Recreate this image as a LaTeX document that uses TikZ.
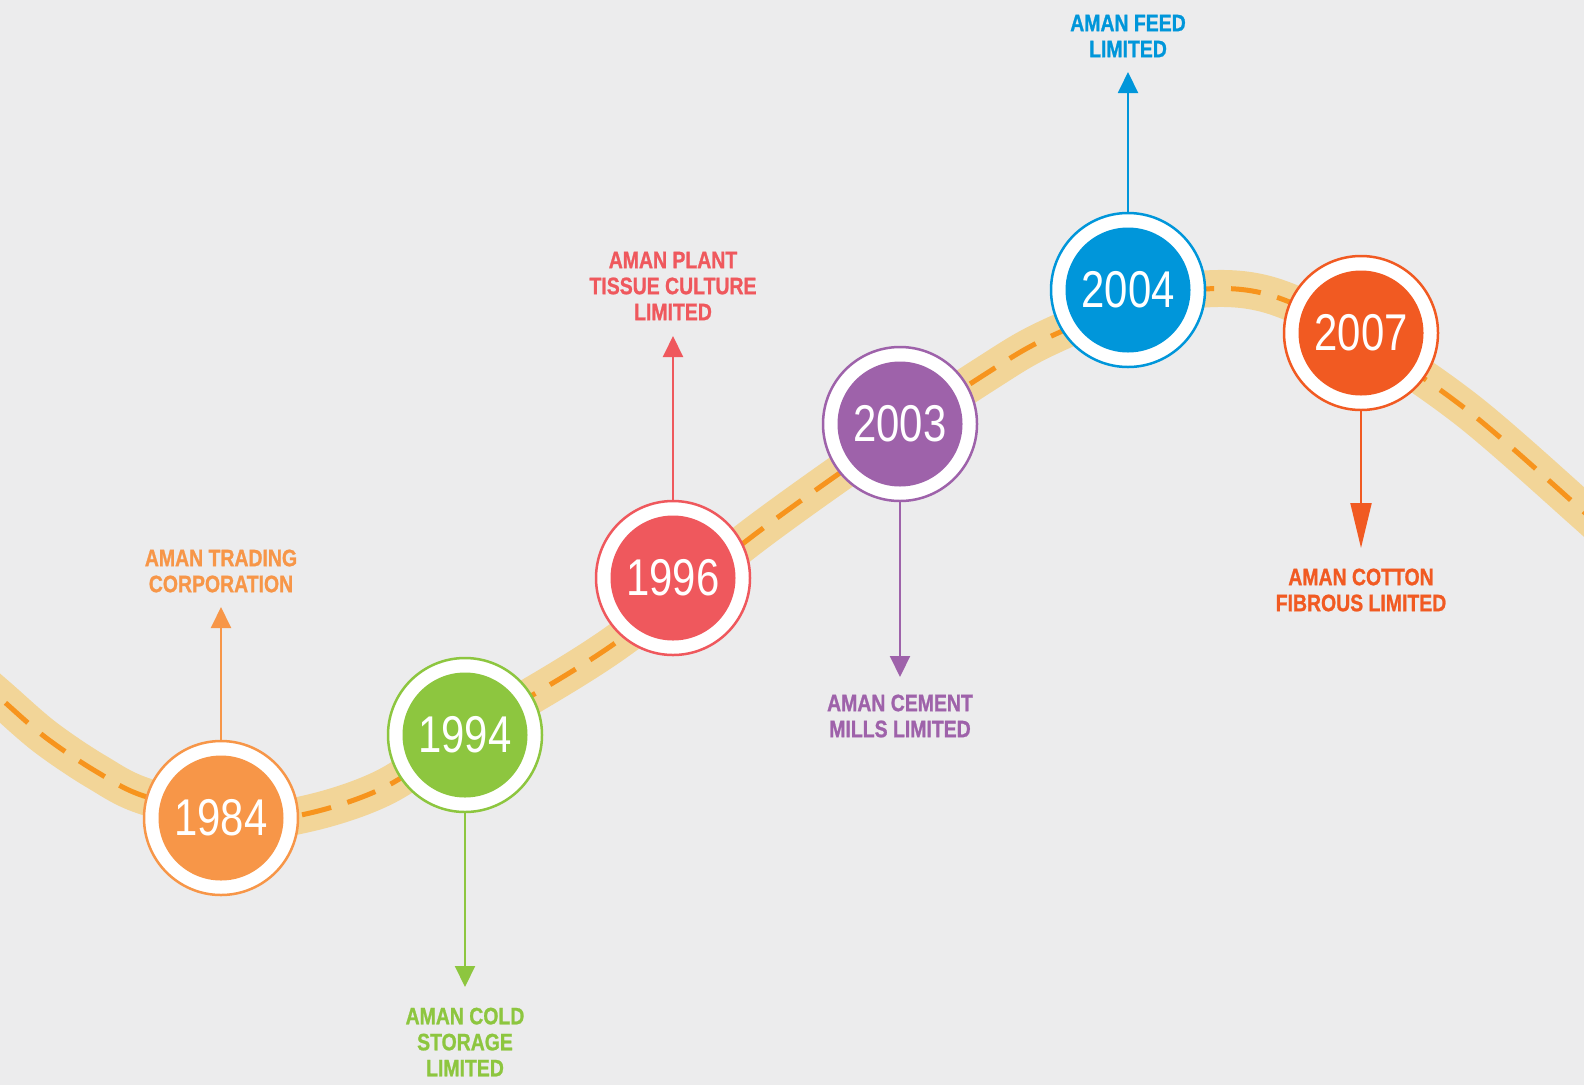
\documentclass[tikz,border=0pt]{standalone}
\usepackage{fontspec}
\setmainfont{Liberation Sans}
\newfontfamily\yearfont[FakeStretch=0.81]{Liberation Sans}
\newfontfamily\labelfont[FakeStretch=0.82,FakeBold=1]{Liberation Sans}
\usetikzlibrary{arrows.meta}
\definecolor{bgc}{RGB}{236,236,237}
\definecolor{roadc}{RGB}{242,213,152}
\definecolor{dashc}{RGB}{247,148,29}
\definecolor{cA}{RGB}{247,150,72}
\definecolor{cB}{RGB}{141,198,63}
\definecolor{cC}{RGB}{239,88,93}
\definecolor{cD}{RGB}{158,98,170}
\definecolor{cE}{RGB}{0,150,218}
\definecolor{cF}{RGB}{241,90,34}
\begin{document}
\begin{tikzpicture}[x=1pt,y=-1pt,
  yearnode/.style={circle, draw=#1, fill=white, line width=2.5pt, minimum size=154pt,
    inner sep=0pt, text=white, font=\yearfont\fontsize{51.7}{55}\selectfont,
    path picture={\fill[#1] (path picture bounding box.center) circle[radius=62.5pt];}},
  lbl/.style={text=#1, align=center, inner sep=0pt,
    font=\labelfont\bfseries\fontsize{23.7}{26}\selectfont},
  pointer/.style={draw=#1, line width=2pt, -{Triangle[length=21pt,width=20pt]}},
  longpointer/.style={draw=#1, line width=2pt, -{Triangle[length=45pt,width=21pt]}},
  roadband/.style={draw=roadc, line width=37pt},
  roaddash/.style={draw=dashc, line width=5pt, dash pattern=on 30pt off 17pt},
]
\useasboundingbox (0,0) rectangle (1584,1085);
\fill[bgc] (0,0) rectangle (1584,1085);
\clip (0,0) rectangle (1584,1085);
\foreach \st in {roadband,roaddash}
  \draw[\st] plot[smooth, tension=0.55] coordinates {
    (-30,672) (0,698) (45,737) (97,772) (147,797) (247,819) (310,813) (385,787)
    (465,735) (611,646) (762,529) (900,431) (987,373) (1043,340) (1128,305)
    (1205,289) (1273,296) (1361,338) (1467,410) (1584,512) (1614,540)};

% year circles
\node[yearnode=cA] (y1984) at (221,818) {1984};
\node[yearnode=cB] (y1994) at (465,735) {1994};
\node[yearnode=cC] (y1996) at (673,578) {1996};
\node[yearnode=cD] (y2003) at (900,424) {2003};
\node[yearnode=cE] (y2004) at (1128,290) {2004};
\node[yearnode=cF] (y2007) at (1361,333) {2007};

% arrow tips
\coordinate (t1984) at (221,607);
\coordinate (t1994) at (465,987);
\coordinate (t1996) at (673,336);
\coordinate (t2003) at (900,677);
\coordinate (t2004) at (1128,72);
\coordinate (t2007) at (1361,548);

\draw[pointer=cA] (y1984.north) -- (t1984);
\draw[pointer=cB] (y1994.south) -- (t1994);
\draw[pointer=cC] (y1996.north) -- (t1996);
\draw[pointer=cD] (y2003.south) -- (t2003);
\draw[pointer=cE] (y2004.north) -- (t2004);
\draw[longpointer=cF] (y2007.south) -- (t2007);

% labels
\node[lbl=cA] (l1984) at (221,571) {AMAN TRADING\\CORPORATION};
\node[lbl=cB] (l1994) at (465,1042) {AMAN COLD\\STORAGE\\LIMITED};
\node[lbl=cC] (l1996) at (673,286) {AMAN PLANT\\TISSUE CULTURE\\LIMITED};
\node[lbl=cD] (l2003) at (900,716) {AMAN CEMENT\\MILLS LIMITED};
\node[lbl=cE] (l2004) at (1128,36) {AMAN FEED\\LIMITED};
\node[lbl=cF] (l2007) at (1361,590) {AMAN COTTON\\FIBROUS LIMITED};
\end{tikzpicture}
\end{document}
